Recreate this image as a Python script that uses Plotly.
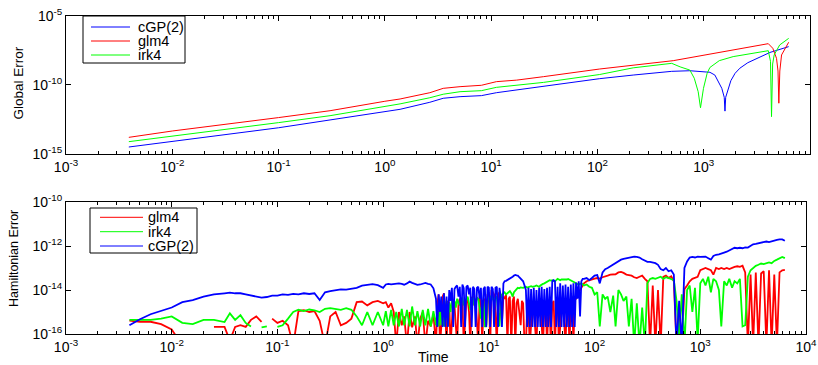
import plotly.graph_objects as go

W, H = 818, 365

# ---------------- Top panel: global error ----------------
t_top_cgp = [0.0039, 0.01, 0.1, 0.305, 1.0, 1.39, 2.65, 3.54, 5.1, 8.1, 11.2, 17.4, 31, 105, 217, 500,
             741, 1143, 1273, 1413, 1480, 1560, 1585, 1610, 1710, 1800, 1972, 2188, 2600, 3163, 4200, 6300]
err_cgp = [3.2e-15, 8e-15, 7.9e-14, 2.9e-13, 1.15e-12, 1.7e-12, 5.5e-12, 1.07e-11, 1.4e-11, 1.66e-11,
           2.7e-11, 4.3e-11, 7.4e-11, 2.8e-10, 5.1e-10, 9.5e-10,
           1.05e-9, 8.1e-10, 5.1e-10, 1.3e-10, 5.6e-11, 1.26e-11, 1.26e-12, 1.26e-11, 5.6e-11, 2e-10,
           6.8e-10, 1.6e-9, 4e-9, 8.3e-9, 2.2e-8, 5.8e-8]

t_top_glm = [0.0039, 0.01, 0.1, 0.305, 1.0, 1.39, 2.65, 3.54, 5.1, 8.1, 11.2, 17.4, 31, 105, 517,
             4050, 4467, 4840, 5000, 5090, 5200, 5400, 6300]
err_glm = [1.6e-14, 4.6e-14, 4.3e-13, 1.35e-12, 6.5e-12, 9.5e-12, 2.7e-11, 5.6e-11, 7.4e-11, 9.3e-11,
           1.7e-10, 2.2e-10, 3.9e-10, 1.4e-9, 5.6e-9,
           9.5e-8, 4.4e-8, 8.3e-9, 1e-9, 4.7e-12, 1e-9, 1.45e-8, 1.2e-7]

t_top_irk = [0.0039, 0.01, 0.1, 0.305, 1.0, 1.39, 2.65, 3.54, 5.1, 8.1, 11.2, 17.4, 31, 105, 217, 500,
             600, 741, 815, 887, 933, 995, 1077, 1143, 1400, 1893, 2818, 4050, 4250, 4345, 4450, 4600,
             5180, 6300]
err_irk = [7.8e-15, 1.9e-14, 1.86e-13, 5.9e-13, 2.5e-12, 4.2e-12, 1.17e-11, 2.1e-11, 3.2e-11, 3.8e-11,
           6.6e-11, 9.8e-11, 1.5e-10, 5.6e-10, 1.7e-9, 3.6e-9,
           2e-9, 1.17e-9, 3e-10, 3.2e-11, 2.2e-12, 5.6e-11, 6.8e-10, 1.8e-9, 5.6e-9, 1.1e-8, 1.9e-8,
           2.95e-8, 5e-9, 5e-13, 3.2e-9, 1.45e-8, 7.6e-8, 2.3e-7]

# ---------------- Bottom panel: Hamiltonian error ----------------
t_ham = [
    # 0.004 .. 0.9
    0.00398, 0.00501, 0.00631, 0.00794, 0.01, 0.0126, 0.0158, 0.02, 0.0251, 0.0316,
    0.0355, 0.0398, 0.0447, 0.0501, 0.0562, 0.0631, 0.0708, 0.0794, 0.0891, 0.1,
    0.112, 0.126, 0.141, 0.158, 0.178, 0.2, 0.224, 0.251, 0.282, 0.316,
    0.355, 0.398, 0.447, 0.501, 0.562, 0.631, 0.708, 0.794, 0.891,
    # 1 .. 3
    1.0, 1.06, 1.12, 1.19, 1.26, 1.33, 1.41, 1.5, 1.58, 1.68,
    1.78, 1.88, 2.0, 2.11, 2.24, 2.37, 2.51, 2.66, 2.82, 2.99,
    # 3.16 .. 77 (finer sampling)
    3.16, 3.25, 3.35, 3.45, 3.55, 3.65, 3.76, 3.87, 3.98, 4.1,
    4.22, 4.34, 4.47, 4.6, 4.73, 4.87, 5.01, 5.16, 5.31, 5.47,
    5.62, 5.79, 5.96, 6.13, 6.31, 6.49, 6.68, 6.88, 7.08, 7.29,
    7.5, 7.72, 7.94, 8.18, 8.41, 8.66, 8.91, 9.17, 9.44, 9.72,
    10.0, 10.3, 10.6, 10.9, 11.2, 11.55, 11.9, 12.23, 12.6, 12.96,
    13.3, 13.73, 14.1, 14.54, 15.0, 15.4, 15.8, 16.31, 16.8, 17.28,
    17.8, 18.3, 18.8, 19.39, 20.0, 20.54, 21.1, 21.75, 22.4, 23.04,
    23.7, 24.41, 25.1, 25.86, 26.6, 27.39, 28.2, 29.0, 29.9, 30.7,
    31.6, 32.5, 33.5, 34.5, 35.5, 36.5, 37.6, 38.7, 39.8, 41.0,
    42.2, 43.4, 44.7, 46.0, 47.3, 48.7, 50.1, 51.6, 53.1, 54.7,
    56.2, 57.9, 59.6, 61.3, 63.1, 64.9, 66.8, 68.8, 70.8, 72.9,
    75.0, 77.2,
    # 79 .. 94
    79.4, 84.1, 89.1, 94.4,
    # 100 .. 944
    100, 106, 112, 119, 126, 133, 141, 150, 158, 168,
    178, 188, 200, 211, 224, 237, 251, 266, 282, 299,
    316, 335, 355, 376, 398, 422, 447, 473, 501, 531,
    562, 596, 631, 668, 708, 750, 794, 841, 891, 944,
    # 1000 .. 6310
    1000, 1060, 1120, 1190, 1260, 1330, 1410, 1500, 1580, 1680,
    1780, 1880, 2000, 2110, 2240, 2370, 2510, 2660, 2820, 2990,
    3160, 3350, 3550, 3760, 3980, 4220, 4470, 4730, 5010, 5310,
    5620, 5960, 6310,
]

ham_glm = [
    4.1e-16, 3.6e-16, 3.6e-16, 2.8e-16, 1.6e-16, 3e-17, None, None, 2.1e-16, 2.1e-16,
    5e-17, 2.1e-16, 2.5e-16, 2.1e-16, 4.4e-16, 6.3e-16, 3.6e-16, None, 5.0e-16, 3.2e-16,
    4.0e-16, 2.5e-16, 3e-17, 1.1e-15, 1.2e-15, 1.0e-15, 1.1e-15, 4.0e-16, 3e-17, 6.3e-16,
    1.0e-15, 2.5e-16, 3.2e-16, 5.0e-16, 2.8e-15, 3.0e-15, 2.0e-15, 2.8e-15, 3.2e-15,
    2.5e-15, 2.8e-15, 1.6e-15, 2.5e-15, 1.0e-15, 3e-17, 1.0e-15, 2.5e-16, 6.3e-16, 3e-17,
    1.0e-15, 2.0e-16, 6.3e-16, 3e-17, 5.0e-16, 1.0e-15, 3e-17, 4.0e-16, 2.2e-16, 7.9e-16,
    3e-17, 2.0e-15, 6.3e-15, 3e-17, 2.1e-16, 5.0e-15, 7.1e-15, 1.0e-15, 3e-17, 3.2e-15,
    2.5e-15, 3e-17, 4.0e-16, 3.5e-15, 2.0e-15, 5.0e-16, 3e-17, 2.5e-15, 4.0e-15, 1.6e-15,
    3.2e-15, 3e-17, 2.1e-16, 4.0e-15, 3.5e-15, 1.0e-15, 3e-17, 4.5e-15, 5.0e-15, 2.0e-15,
    4.0e-15, 3e-17, 3e-17, 5.0e-15, 5.0e-15, 3e-17, 3.2e-15, 4.0e-15, 2.5e-16, 6.3e-15,
    7.9e-15, 3e-17, 1.0e-14, 7.9e-15, 6.3e-15, 1.0e-15, 3e-17, 6.3e-15, 7.9e-15, 2.0e-15,
    3.2e-16, 5.0e-15, 4.0e-15, 6.3e-15, 3e-17, 4.0e-15, 5.0e-15, 3e-17, 3.2e-15, 5.0e-15,
    3e-17, 2.5e-15, 4.0e-15, 1.0e-15, 2.5e-16, 3.2e-15, 2.5e-15, 3e-17, 3e-17, 2.0e-15,
    1.0e-15, 3e-17, 2.1e-16, 2.5e-15, 1.26e-15, 3e-17, 3e-17, 1.6e-15, 6.3e-16, 2.0e-15,
    2.5e-16, 3e-17, 1.6e-15, 2.5e-15, 3e-17, 1.26e-15, 1.0e-15, 3e-17, 2.5e-15, 3.2e-15,
    3e-17, 2.0e-15, 3.2e-15, 3e-17, 2.1e-16, 3.5e-15, 4.0e-15, 3e-17, 3e-17, 2.5e-15,
    2.0e-15, 3e-17, 3.2e-15, 5.0e-15, 3e-17, 4.0e-15, 4.0e-15, 5.0e-15, 6.3e-15, 1.0e-14,
    1.26e-14, 1.6e-14,
    2.0e-14, 2.5e-14, 2.8e-14, 3.2e-14,
    3.3e-14, 3.5e-14, 3.3e-14, 3.8e-14, 4.0e-14, 4.5e-14, 5.0e-14, 5.0e-14, 5.2e-14, 6.3e-14,
    6.6e-14, 6.0e-14, 5.0e-14, 4.8e-14, 4.5e-14, 3.8e-14, 3.5e-14, 4.0e-14, 4.5e-14, 3.2e-14,
    2.5e-14, 3e-17, 1.6e-14, 3e-17, 1.0e-14, 3e-17, 4.0e-14, 4.5e-14, 3.5e-14, 4.2e-14,
    2.5e-14, 3e-17, 1.6e-15, 3e-17, 1.1e-14, 1.6e-14, 2.5e-14, 3.2e-14, 3.5e-14, 4.0e-14,
    7.9e-14, 8.9e-14, 1.0e-13, 8.9e-14, 7.9e-14, 5.0e-14, 1.0e-13, 8.9e-14, 1.0e-13, 8.9e-14,
    1.0e-13, 8.9e-14, 1.05e-13, 1.12e-13, 1.2e-13, 1.12e-13, 1.26e-13, 6.3e-14, 3e-17, 5.0e-14,
    3e-17, 6.3e-14, 3e-17, 5.6e-14, 7.1e-14, 3e-17, 7.9e-14, 3e-17, 5.0e-14, 3e-17,
    6.3e-14, 7.9e-14, 8.3e-14,
]

ham_irk = [
    4.4e-16, 4.4e-16, 4.4e-16, 5.0e-16, 6.3e-16, 3.2e-16, 2.8e-16, 4.4e-16, 4.4e-16, 3.5e-16,
    8.7e-16, 4.4e-16, 7.2e-16, 3.2e-16, 2.2e-16, None, 2.0e-16, 2.2e-16, None, 2.1e-16,
    2.5e-16, 5.0e-16, 1.0e-15, 1.26e-15, 1.1e-15, 1.3e-15, 1.2e-15, 1.0e-15, 1.4e-15, 1.5e-15,
    1.4e-15, 1.26e-15, 1.5e-15, 1.26e-15, 6.3e-16, 2.5e-16, 1.0e-15, 2.5e-16, 1.0e-15,
    2.5e-16, 1.1e-15, 2.2e-16, 1.26e-15, 2.5e-16, 1.0e-15, 2.2e-16, 1.4e-15, 2.5e-16, 1.26e-15,
    2.2e-16, 1.78e-15, 2.5e-16, 1.1e-15, 2.2e-16, 1.26e-15, 2.5e-16, 1.4e-15, 2.2e-16, 1.1e-15,
    2.5e-16, 1.1e-15, 2.2e-16, 1.26e-15, 2.5e-16, 1.0e-15, 2.2e-16, 1.4e-15, 3.2e-15, 2.2e-16,
    2.5e-15, 1.0e-15, 3.5e-15, 2.5e-15, 3.2e-15, 1.6e-15, 4.0e-15, 2.5e-15, 2.0e-15, 3.5e-15,
    4.5e-15, 2.0e-15, 2.8e-15, 4.0e-15, 5.0e-15, 2.5e-15, 1.26e-15, 4.0e-15, 4.5e-15, 2.0e-15,
    2.5e-15, 4.5e-15, 4.0e-15, 1.6e-15, 5.0e-16, 2.8e-15, 3.2e-15, 2.2e-16, 2.2e-16, 3.2e-15,
    4.5e-15, 5.0e-15, 3.5e-15, 5.5e-15, 2.5e-15, 4.5e-15, 5.0e-15, 1.0e-15, 2.2e-16, 4.0e-15,
    6.3e-15, 7.1e-15, 7.9e-15, 6.3e-15, 7.1e-15, 8.5e-15, 8.9e-15, 7.1e-15, 5.0e-15, 7.9e-15,
    8.9e-15, 1.1e-14, 1.26e-14, 1.2e-14, 1.32e-14, 1.3e-14, 1.26e-14, 1.35e-14, 1.4e-14, 1.3e-14,
    1.4e-14, 1.45e-14, 1.5e-14, 1.4e-14, 1.4e-14, 1.5e-14, 1.6e-14, 1.5e-14, 1.4e-14, 1.6e-14,
    1.78e-14, 1.9e-14, 2.0e-14, 2.2e-14, 2.5e-14, 2.6e-14, 2.8e-14, 2.7e-14, 2.8e-14, 2.6e-14,
    2.5e-14, 2.8e-14, 3.2e-14, 3.0e-14, 2.8e-14, 3.0e-14, 3.0e-14, 2.9e-14, 2.8e-14, 3.0e-14,
    3.2e-14, 3.0e-14, 2.8e-14, 2.6e-14, 2.5e-14, 2.2e-14, 2.0e-14, 1.9e-14, 1.78e-14, 1.9e-14,
    2.0e-14, 1.8e-14,
    1.6e-14, 1.78e-14, 1.4e-14, 1.26e-14,
    6.3e-15, 7.9e-15, 2.2e-16, 6.3e-15, 4.0e-15, 5.0e-15, 1.0e-15, 5.6e-15, 2.2e-16, 1.0e-14,
    6.3e-15, 3.2e-15, 5.0e-15, 2.2e-16, 4.0e-15, 3e-17, 2.5e-15, 3e-17, 1.6e-15, 3e-17,
    2.0e-14, 3.2e-14, 3.5e-14, 3.2e-14, 3.5e-14, 4.0e-14, 3.2e-14, 3.8e-14, 3.5e-14, 3.2e-14,
    2.8e-14, 3.2e-15, 6e-17, 6.3e-15, 3e-17, 1.0e-14, 1.6e-14, 1.0e-15, 1.26e-14, 5e-17,
    2.0e-14, 3.2e-14, 1.6e-14, 4.0e-14, 7.9e-15, 3.2e-14, 2.5e-14, 1.0e-14, 2.2e-16, 2.5e-14,
    1.6e-14, 3.2e-14, 1.26e-14, 2.5e-14, 2.0e-14, 3.2e-14, 2.2e-16, 2.5e-16, 4.0e-14, 7.9e-14,
    1.0e-13, 1.26e-13, 1.4e-13, 1.6e-13, 1.5e-13, 1.6e-13, 1.78e-13, 1.66e-13, 2.1e-13, 2.4e-13,
    2.8e-13, 3.2e-13, 2.8e-13,
]

ham_cgp = [
    2.5e-16, 4.7e-16, 7.9e-16, 1.1e-15, 1.6e-15, 2.8e-15, 3.5e-15, 5.0e-15, 6.3e-15, 7.1e-15,
    7.6e-15, 7.1e-15, 7.1e-15, 6.3e-15, 5.6e-15, 5.0e-15, 4.5e-15, 4.8e-15, 5.6e-15, 5.6e-15,
    6.3e-15, 6.0e-15, 6.6e-15, 6.3e-15, 7.1e-15, 6.6e-15, 7.1e-15, 3.5e-15, 7.9e-15, 8.9e-15,
    1.0e-14, 1.07e-14, 1.05e-14, 1.12e-14, 1.26e-14, 1.58e-14, 1.78e-14, 1.86e-14, 1.66e-14,
    1.26e-14, 1.78e-14, 1.9e-14, 1.8e-14, 1.9e-14, 1.86e-14, 2.0e-14, 1.9e-14, 1.74e-14, 2.0e-14,
    2.4e-14, 2.1e-14, 1.8e-14, 1.7e-14, 1.78e-14, 2.0e-14, 2.1e-14, 1.9e-14, 1.78e-14, 1.2e-14,
    4.0e-15, 2.1e-16, 6.3e-15, 1.0e-15, 5.0e-15, 2.1e-16, 7.1e-15, 2.1e-16, 5.0e-15, 2.1e-16,
    1.0e-14, 3.2e-15, 1.26e-14, 2.1e-16, 1.1e-14, 1.4e-14, 1.6e-14, 5.0e-15, 1.4e-14, 2.1e-16,
    1.78e-14, 1.2e-14, 2.1e-16, 1.4e-14, 1.6e-14, 6.3e-15, 1.26e-14, 2.1e-16, 1.4e-14, 1.1e-14,
    2.1e-16, 1.26e-14, 1.4e-14, 4.0e-15, 1.26e-14, 2.1e-16, 1.1e-14, 1.4e-14, 2.1e-16, 1.4e-14,
    1.26e-14, 2.1e-16, 1.4e-14, 1.1e-14, 2.1e-16, 1.26e-14, 1.4e-14, 2.1e-16, 1.26e-14, 5.0e-15,
    2.1e-16, 2.0e-14, 2.5e-14, 2.6e-14, 2.8e-14, 3.0e-14, 3.2e-14, 3.6e-14, 4.0e-14, 4.5e-14,
    4.8e-14, 4.6e-14, 4.5e-14, 3.8e-14, 3.2e-14, 2.8e-14, 2.5e-14, 1.6e-14, 1.0e-14, 2.1e-16,
    1.26e-14, 2.1e-16, 1.1e-14, 2.1e-16, 1.26e-14, 2.1e-16, 1.0e-14, 2.1e-16, 1.26e-14, 2.1e-16,
    1.4e-14, 2.1e-16, 1.1e-14, 2.1e-16, 1.26e-14, 2.1e-16, 1.4e-14, 2.1e-16, 2.5e-14, 2.8e-14,
    2.5e-14, 2.1e-16, 1.4e-14, 2.1e-16, 2.0e-14, 2.1e-16, 1.6e-14, 2.1e-16, 1.78e-14, 2.1e-16,
    1.4e-14, 2.1e-16, 1.78e-14, 2.1e-16, 2.0e-14, 2.1e-16, 2.2e-14, 4.0e-15, 2.5e-14, 6.3e-16,
    2.5e-14, 3.2e-14,
    3.2e-14, 3.5e-14, 2.8e-14, 3.5e-14,
    4.5e-14, 4.8e-14, 2.0e-14, 6.3e-14, 8.9e-14, 1.0e-13, 1.2e-13, 1.4e-13, 1.78e-13, 2.1e-13,
    2.4e-13, 2.6e-13, 2.8e-13, 3.0e-13, 3.2e-13, 3.3e-13, 3.2e-13, 3.0e-13, 2.5e-13, 2.1e-13,
    1.9e-13, 1.9e-13, 1.8e-13, 1.66e-13, 1.4e-13, 8.9e-14, 7.9e-14, 1.0e-13, 7.1e-14, 7.9e-14,
    5.0e-14, 3e-17, 3.2e-15, 3e-17, 1.0e-13, 2.0e-13, 3.0e-13, 3.2e-13, 3.0e-13, 3.3e-13,
    3.2e-13, 3.2e-13, 3.3e-13, 2.8e-13, 2.4e-13, 3.5e-13, 4.0e-13, 4.2e-13, 4.7e-13, 5.0e-13,
    5.5e-13, 6.3e-13, 7.6e-13, 8.3e-13, 7.9e-13, 8.3e-13, 7.9e-13, 8.7e-13, 8.5e-13, 1.0e-12,
    1.2e-12, 1.26e-12, 1.32e-12, 1.4e-12, 1.5e-12, 1.6e-12, 1.5e-12, 1.66e-12, 1.74e-12, 1.9e-12,
    2.0e-12, 2.0e-12, 1.74e-12,
]

top_legend = ["cGP(2)", "glm4", "irk4"]
bottom_legend = ["glm4", "irk4", "cGP(2)"]

# tick positions / labels
x_tickvals = [1e-3, 1e-2, 1e-1, 1e0, 1e1, 1e2, 1e3, 1e4]
x_ticktext = ["10<sup>-3</sup>", "10<sup>-2</sup>", "10<sup>-1</sup>", "10<sup>0</sup>",
              "10<sup>1</sup>", "10<sup>2</sup>", "10<sup>3</sup>", "10<sup>4</sup>"]
y1_tickvals = [1e-15, 1e-10, 1e-5]
y1_ticktext = ["10<sup>-15</sup>", "10<sup>-10</sup>", "10<sup>-5</sup>"]
y2_tickvals = [1e-16, 1e-14, 1e-12, 1e-10]
y2_ticktext = ["10<sup>-16</sup>", "10<sup>-14</sup>", "10<sup>-12</sup>", "10<sup>-10</sup>"]

BLUE, RED, GREEN = "#0000ff", "#ff0000", "#00ff00"
colors = {"cGP(2)": BLUE, "glm4": RED, "irk4": GREEN}
FONT = "Liberation Sans, Arial, Helvetica, sans-serif"

fig = go.Figure()
# top panel (plot order cGP(2), glm4, irk4)
for t, e, name in [(t_top_cgp, err_cgp, "cGP(2)"), (t_top_glm, err_glm, "glm4"), (t_top_irk, err_irk, "irk4")]:
    fig.add_trace(go.Scatter(x=t, y=e, mode="lines", name=name, showlegend=False,
                             line=dict(color=colors[name], width=1), xaxis="x", yaxis="y"))
# bottom panel (plot order glm4, irk4, cGP(2))
for e, name in [(ham_glm, "glm4"), (ham_irk, "irk4"), (ham_cgp, "cGP(2)")]:
    fig.add_trace(go.Scatter(x=t_ham, y=e, mode="lines", name=name, showlegend=False,
                             line=dict(color=colors[name], width=1.8), xaxis="x2", yaxis="y2",
                             connectgaps=False))


def px(x):
    return x / W


def py(y):
    return 1 - y / H


common_x = dict(type="log", range=[-3, 4], tickvals=x_tickvals, ticktext=x_ticktext, showgrid=False,
                zeroline=False, showline=True, linecolor="black", linewidth=1, mirror="ticks",
                ticks="inside", ticklen=5, tickcolor="black", automargin=False,
                minor=dict(dtick="D1", ticks="inside", ticklen=3, tickcolor="black", showgrid=False),
                tickfont=dict(family=FONT, size=14, color="black"))
common_y = dict(type="log", showgrid=False, zeroline=False, showline=True,
                linecolor="black", linewidth=1, mirror="ticks", ticks="inside", ticklen=5,
                tickcolor="black", tickfont=dict(family=FONT, size=14, color="black"), automargin=False)

fig.update_layout(
    width=W, height=H, autosize=False,
    margin=dict(l=0, r=0, t=0, b=0, pad=0, autoexpand=False),
    paper_bgcolor="white", plot_bgcolor="white",
    font=dict(family=FONT, size=13, color="black"),
    xaxis=dict(common_x, domain=[px(66), px(810)], anchor="y"),
    yaxis=dict(common_y, domain=[py(154), py(15.7)], anchor="x", range=[-15, -5],
               tickvals=y1_tickvals, ticktext=y1_ticktext),
    xaxis2=dict(common_x, domain=[px(66), px(806)], anchor="y2"),
    yaxis2=dict(common_y, domain=[py(334), py(202)], anchor="x2", range=[-16, -10],
                tickvals=y2_tickvals, ticktext=y2_ticktext),
)

shapes = []
annotations = []


def add_legend(box, line_x, text_x, rows, names):
    x0, x1, y0, y1 = box
    shapes.append(dict(type="rect", xref="paper", yref="paper", x0=px(x0), x1=px(x1),
                       y0=py(y1), y1=py(y0), line=dict(color="black", width=1),
                       fillcolor="white", layer="above"))
    for yy, nm in zip(rows, names):
        shapes.append(dict(type="line", xref="paper", yref="paper", x0=px(line_x[0]), x1=px(line_x[1]),
                           y0=py(yy), y1=py(yy), line=dict(color=colors[nm], width=1), layer="above"))
        annotations.append(dict(text=nm, xref="paper", yref="paper", x=px(text_x), y=py(yy),
                                xanchor="left", yanchor="middle", showarrow=False,
                                font=dict(family=FONT, size=14.5, color="black")))


add_legend((83, 185, 16, 63), (91, 130), 136, [27, 41, 55], top_legend)
add_legend((90, 197, 208, 253), (100, 143), 146, [217.3, 231.7, 246], bottom_legend)

annotations.append(dict(text="Global Error", xref="paper", yref="paper", x=px(17.5), y=py(83),
                        textangle=-90, showarrow=False, xanchor="center", yanchor="middle",
                        font=dict(family=FONT, size=13.5, color="black")))
annotations.append(dict(text="Hamiltonian Error", xref="paper", yref="paper", x=px(14), y=py(259),
                        textangle=-90, showarrow=False, xanchor="center", yanchor="middle",
                        font=dict(family=FONT, size=12.5, color="black")))
annotations.append(dict(text="Time", xref="paper", yref="paper", x=px(434), y=py(357),
                        showarrow=False, xanchor="center", yanchor="middle",
                        font=dict(family=FONT, size=14, color="black")))

fig.update_layout(shapes=shapes, annotations=annotations)
fig.write_html("out.html", config={"responsive": False, "displayModeBar": False},
               post_script="document.body.style.margin='0';document.body.style.overflow='hidden';")
